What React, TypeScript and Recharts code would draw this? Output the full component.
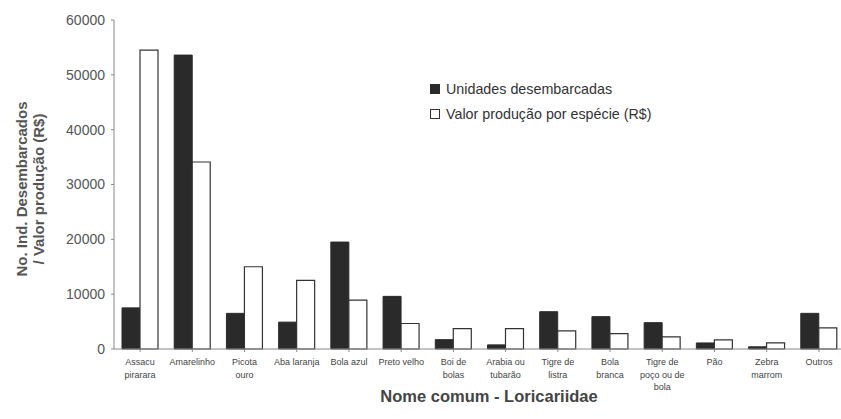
import React from "react";
import { BarChart, Bar, XAxis, YAxis } from "recharts";

const categories = [
  "Assacu\npirarara",
  "Amarelinho",
  "Picota\nouro",
  "Aba laranja",
  "Bola azul",
  "Preto velho",
  "Boi de\nbolas",
  "Arabia ou\ntubarão",
  "Tigre de\nlistra",
  "Bola\nbranca",
  "Tigre de\npoço ou de\nbola",
  "Pão",
  "Zebra\nmarrom",
  "Outros",
];
const unidades = [7500, 53600, 6500, 4900, 19500, 9600, 1700, 750, 6800, 5900, 4800, 1100, 400, 6500];
const valor = [54500, 34100, 15000, 12500, 8900, 4650, 3700, 3700, 3300, 2800, 2200, 1650, 1100, 3850];
const yTicks = [0, 10000, 20000, 30000, 40000, 50000, 60000];

const data = categories.map((c, i) => ({ name: c, unidades: unidades[i], valor: valor[i] }));

const FONT = "'Liberation Sans', Arial, sans-serif";

const XTick = (props: any) => {
  const { x, y, payload } = props;
  const lines = String(payload.value).split("\n");
  return (
    <text x={x} y={y} textAnchor="middle" fontFamily={FONT} fontSize={9} fill="#444">
      {lines.map((l, i) => (
        <tspan key={i} x={x} dy={i === 0 ? 11 : 12.5}>
          {l}
        </tspan>
      ))}
    </text>
  );
};

const YLabel = () => {
  const cx = 30;
  const cy = 189;
  return (
    <text
      transform={`rotate(-90, ${cx}, ${cy})`}
      x={cx}
      y={cy}
      textAnchor="middle"
      fontFamily={FONT}
      fontSize={15}
      fontWeight="bold"
      fill="#555"
    >
      <tspan x={cx} dy={-3}>No. Ind. Desembarcados</tspan>
      <tspan x={cx} dy={17}>/ Valor produção (R$)</tspan>
    </text>
  );
};

const XLabel = () => (
  <text x={489} y={402} textAnchor="middle" fontFamily={FONT} fontSize={16.5} fontWeight="bold" fill="#444">
    Nome comum - Loricariidae
  </text>
);

const LegendBox = () => (
  <div style={{ position: "absolute", left: 430, top: 76, fontFamily: FONT, fontSize: 14.3, color: "#333" }}>
    <div style={{ display: "flex", alignItems: "center", height: 25 }}>
      <span style={{ width: 8, height: 8, background: "#2a2a2a", border: "1px solid #2a2a2a", marginRight: 6, display: "inline-block" }} />
      Unidades desembarcadas
    </div>
    <div style={{ display: "flex", alignItems: "center", height: 25 }}>
      <span style={{ width: 8, height: 8, background: "#fff", border: "1px solid #333", marginRight: 6, display: "inline-block" }} />
      Valor produção por espécie (R$)
    </div>
  </div>
);

export default function App() {
  return (
    <div style={{ position: "absolute", left: 0, top: 0, width: 841, height: 419, overflow: "hidden", background: "#fff" }}>
      <BarChart
        width={848}
        height={419}
        data={data}
        margin={{ top: 20, right: 3, bottom: 0, left: 0 }}
        barCategoryGap={8}
        barGap={0}
      >
        <XAxis
          dataKey="name"
          interval={0}
          height={70}
          tick={<XTick />}
          tickLine={{ stroke: "#888" }}
          tickSize={3}
          axisLine={{ stroke: "#888" }}
          label={<XLabel />}
        />
        <YAxis
          width={114}
          domain={[0, 60000]}
          ticks={yTicks}
          interval={0}
          tick={{ fontFamily: FONT, fontSize: 14, fill: "#555" }}
          tickLine={{ stroke: "#888" }}
          tickSize={3}
          tickMargin={6}
          axisLine={{ stroke: "#888" }}
          label={<YLabel />}
        />
        <Bar dataKey="unidades" fill="#2a2a2a" stroke="#2a2a2a" isAnimationActive={false} />
        <Bar dataKey="valor" fill="#ffffff" stroke="#333" strokeWidth={1.2} isAnimationActive={false} />
      </BarChart>
      <LegendBox />
    </div>
  );
}
